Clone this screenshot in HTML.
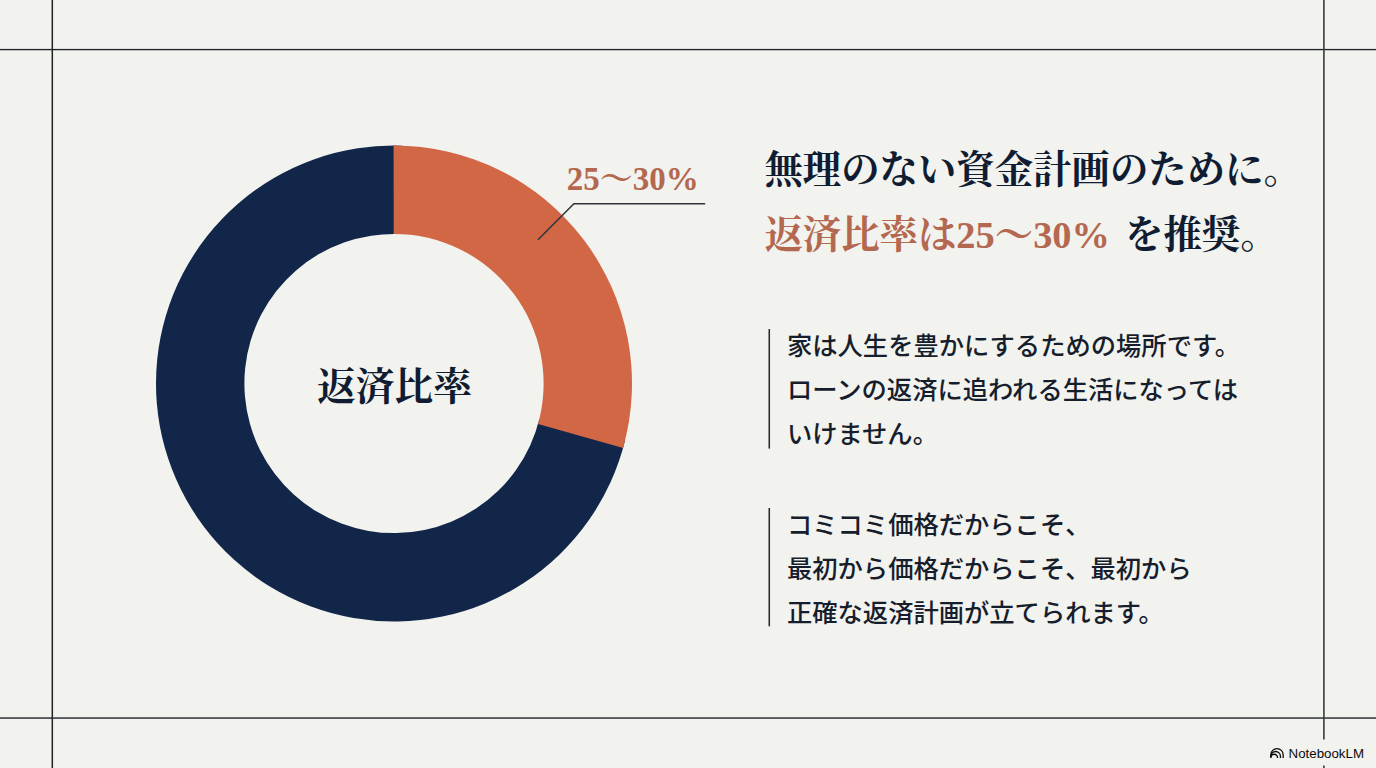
<!DOCTYPE html>
<html lang="ja">
<head>
<meta charset="utf-8">
<title>返済比率は25〜30%を推奨</title>
<style>
html,body{margin:0;padding:0;}
body{width:1376px;height:768px;overflow:hidden;background:#f2f2ee;position:relative;font-family:"Liberation Sans",sans-serif;}
#art{position:absolute;left:0;top:0;width:1376px;height:768px;display:block;}
.sf{font-family:"Liberation Serif","Noto Serif CJK SC",serif;}
.sn{font-family:"Liberation Sans","Noto Sans CJK JP",sans-serif;}
</style>
</head>
<body>
<svg id="art" width="1376" height="768" viewBox="0 0 1376 768">
<rect x="0" y="48.9" width="1376" height="1.35" fill="#1e2327"/><rect x="0" y="717.3" width="1376" height="1.5" fill="#2d3236"/><rect x="51.55" y="0" width="1.5" height="768" fill="#1f2428"/><rect x="1323.1" y="0" width="1.6" height="768" fill="#363c40"/>
<path fill="#12264a" d="M625.23 439.87A238.0 238.0 0 1 1 402.31 145.64L399.22 233.99A149.6 149.6 0 1 0 539.34 418.93Z"/>
<path fill="#d26745" d="M393.58 145.50A238.0 238.0 0 0 1 623.12 447.90L538.02 423.98A149.6 149.6 0 0 0 393.74 233.90Z"/>
<polyline fill="none" stroke="#30343a" stroke-width="1.5" stroke-linejoin="miter" points="538,239.7 573.9,203.75 705.2,203.75"/>
<text class="sf" x="566.7" y="190.3" font-size="33" font-weight="700" fill="#b3684f">25〜30%</text>
<text class="sf" x="317.1" y="399.6" font-size="38.7" font-weight="700" fill="#101c31">返済比率</text>
<text class="sf" x="764.4" y="183.4" font-size="38.4" font-weight="700" fill="#101c31">無理のない資金計画のために。</text>
<text class="sf" x="764.4" y="248.4" font-size="38.4" font-weight="700" fill="#b3684f">返済比率は25〜30%</text>
<text class="sf" x="1125" y="248.4" font-size="38.4" font-weight="700" fill="#101c31">を推奨。</text>
<g fill="#252a31"><rect x="768.5" y="329.0" width="1.55" height="119.6"/><rect x="768.5" y="508.0" width="1.55" height="118.3"/></g>
<text class="sn" x="786.95" y="355" font-size="25.3" font-weight="500" fill="#161e2d">家は人生を豊かにするための場所です。</text>
<text class="sn" x="786.95" y="399.2" font-size="25.3" font-weight="500" fill="#161e2d">ローンの返済に追われる生活になっては</text>
<text class="sn" x="786.95" y="443.1" font-size="25.3" font-weight="500" fill="#161e2d">いけません。</text>
<text class="sn" x="786.95" y="533.6" font-size="25.3" font-weight="500" fill="#161e2d">コミコミ価格だからこそ、</text>
<text class="sn" x="786.95" y="577.6" font-size="25.3" font-weight="500" fill="#161e2d">最初から価格だからこそ、最初から</text>
<text class="sn" x="786.95" y="621.6" font-size="25.3" font-weight="500" fill="#161e2d">正確な返済計画が立てられます。</text>
<rect x="1264" y="739.6" width="107" height="25.8" rx="3" fill="#f2f2ee"/>
<g fill="none" stroke="#0b0b0b" stroke-width="1.3" stroke-linecap="butt"><path d="M1270.85 758.0V754.7A6.16 6.16 0 0 1 1283.17 754.7V758.0"/><path d="M1270.85 756.3A4.8 4.8 0 0 1 1280.45 756.3V758.0"/><path d="M1270.85 757.6A3.34 3.34 0 0 1 1277.53 757.6V758.0"/></g>
<text x="1288.6" y="757.55" font-size="13.3" fill="#0b0b0b" font-family="&quot;Liberation Sans&quot;,sans-serif">NotebookLM</text>
</svg>
</body>
</html>
